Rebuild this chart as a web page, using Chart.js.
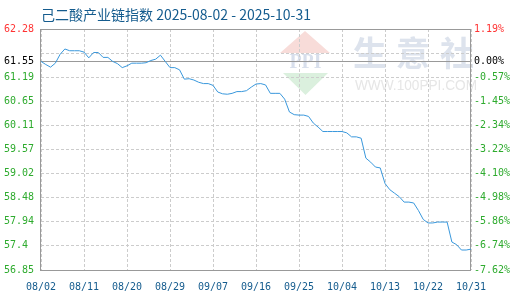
<!DOCTYPE html>
<html>
<head>
<meta charset="utf-8">
<script src="https://cdn.jsdelivr.net/npm/chart.js@4/dist/chart.umd.min.js"></script>
<style>
  body { margin: 0; background: #fff; }
  canvas { display: block; }
</style>
</head>
<body>
<canvas id="myChart" width="520" height="300"></canvas>
<script>
// daily index values 08/02 .. 10/31
const values = [61.55,61.48,61.42,61.51,61.71,61.83,61.79,61.79,61.79,61.76,
  61.63,61.75,61.75,61.64,61.64,61.55,61.50,61.41,61.45,61.51,
  61.51,61.51,61.52,61.57,61.60,61.69,61.55,61.41,61.41,61.36,
  61.15,61.16,61.13,61.08,61.05,61.05,61.01,60.86,60.82,60.81,
  60.83,60.87,60.87,60.89,60.97,61.04,61.05,61.02,60.83,60.83,
  60.83,60.70,60.41,60.35,60.34,60.34,60.31,60.16,60.07,59.97,
  59.97,59.97,59.97,59.97,59.94,59.85,59.85,59.82,59.37,59.28,
  59.17,59.15,58.80,58.66,58.58,58.50,58.38,58.38,58.36,58.19,
  57.99,57.91,57.91,57.93,57.93,57.93,57.48,57.42,57.30,57.30,57.32];

const monthDays = [['08', 2, 31], ['09', 1, 30], ['10', 1, 31]];
const dates = [];
monthDays.forEach(m => {
  for (let d = m[1]; d <= m[2]; d++) dates.push(m[0] + '/' + String(d).padStart(2, '0'));
});

const yTicks = [56.85, 57.4, 57.94, 58.48, 59.02, 59.57, 60.11, 60.65, 61.19, 61.55, 61.737, 62.28];
const leftLabels = ['56.85','57.4','57.94','58.48','59.02','59.57','60.11','60.65','61.19','61.55','','62.28'];
const rightLabels = ['-7.62%','-6.74%','-5.86%','-4.98%','-4.10%','-3.22%','-2.34%','-1.45%','-0.57%','0.00%','','1.19%'];
const baseValue = 61.55;
const yMin = 56.85, yMax = 62.28;

const titleText = '己二酸产业链指数 2025-08-02 - 2025-10-31';

const RED = '#ff3333', GREEN = '#2eab2e', BLUE = '#155c8e';
const mono = "'DejaVu Sans Mono', monospace";

function labelColor(ctx) {
  if (!ctx.tick) return GREEN;
  if (ctx.tick.value === yMax) return RED;
  if (ctx.tick.value === baseValue) return '#000';
  return GREEN;
}

const extras = {
  id: 'extras',
  beforeDraw(chart) {
    const c = chart.ctx;
    c.save();
    // logo watermark
    c.fillStyle = '#f8dcd9';
    c.beginPath(); c.moveTo(280, 53); c.lineTo(330, 53); c.lineTo(305, 31); c.closePath(); c.fill();
    c.fillStyle = '#dbf0de';
    c.beginPath(); c.moveTo(283, 73); c.lineTo(328, 73); c.lineTo(305.5, 95); c.closePath(); c.fill();
    c.fillStyle = '#d8dfec';
    c.font = "bold 20px 'Liberation Serif', serif";
    c.textAlign = 'center'; c.textBaseline = 'middle';
    c.fillText('PPI', 305.5, 63, 46);
    c.fillStyle = '#dde3ed';
    c.font = "bold 34px 'Noto Sans CJK SC', sans-serif";
    c.fillText('生', 370, 53);
    c.fillText('意', 413, 53);
    c.fillText('社', 457, 53);
    c.fillStyle = '#e6e6e6';
    c.font = "14px 'Liberation Sans', sans-serif";
    c.textAlign = 'left';
    c.fillText('WWW.100PPI.COM', 355, 86.5, 122);
    // title
    c.fillStyle = BLUE;
    c.font = "14px 'Noto Sans CJK SC', sans-serif";
    c.textBaseline = 'middle';
    c.fillText(titleText, 41, 15, 272);
    c.restore();
  },
  beforeDatasetsDraw(chart) {
    const a = chart.chartArea;
    const c = chart.ctx;
    c.save();
    c.strokeStyle = '#999';
    c.lineWidth = 1;
    c.strokeRect(Math.round(a.left) - 0.5, Math.round(a.top) + 0.5,
      Math.round(a.right - a.left), Math.round(a.bottom - a.top));
    c.restore();
  }
};

new Chart(document.getElementById('myChart'), {
  type: 'line',
  data: {
    labels: dates,
    datasets: [{
      data: values,
      borderColor: '#3a98dc',
      borderWidth: 1,
      pointRadius: 0,
      tension: 0,
      fill: false
    }]
  },
  options: {
    responsive: false,
    animation: false,
    events: [],
    layout: { padding: { left: 4, top: 29, right: 0, bottom: 0 } },
    plugins: { legend: { display: false }, tooltip: { enabled: false } },
    scales: {
      x: {
        type: 'category',
        offset: false,
        afterFit: s => { s.height = 30; },
        afterBuildTicks: s => { s.ticks = s.ticks.filter(t => t.value % 9 === 0); },
        ticks: { autoSkip: false, maxRotation: 0, color: BLUE, padding: 11, font: { family: mono, size: 10 } },
        grid: { color: '#cccccc', drawTicks: false },
        border: { display: false, dash: [3, 2] }
      },
      y: {
        position: 'left',
        min: yMin, max: yMax,
        afterFit: s => { s.width = 37; },
        afterBuildTicks: s => { s.ticks = yTicks.map(v => ({ value: v })); },
        ticks: {
          crossAlign: 'far',
          color: labelColor,
          font: { family: mono, size: 10 },
          callback: (v, i) => leftLabels[i]
        },
        grid: {
          drawTicks: false,
          color: ctx => (ctx.tick && ctx.tick.value === baseValue) ? '#999999' : '#cccccc'
        },
        border: { display: false, dash: ctx => (ctx.tick && ctx.tick.value === baseValue) ? [] : [3, 2] }
      },
      y2: {
        position: 'right',
        min: yMin, max: yMax,
        afterFit: s => { s.width = 49; },
        afterBuildTicks: s => { s.ticks = yTicks.map(v => ({ value: v })); },
        ticks: {
          padding: 3,
          color: labelColor,
          font: { family: mono, size: 10 },
          callback: (v, i) => rightLabels[i]
        },
        grid: { display: false, drawTicks: false },
        border: { display: false }
      }
    }
  },
  plugins: [extras]
});
</script>
</body>
</html>
